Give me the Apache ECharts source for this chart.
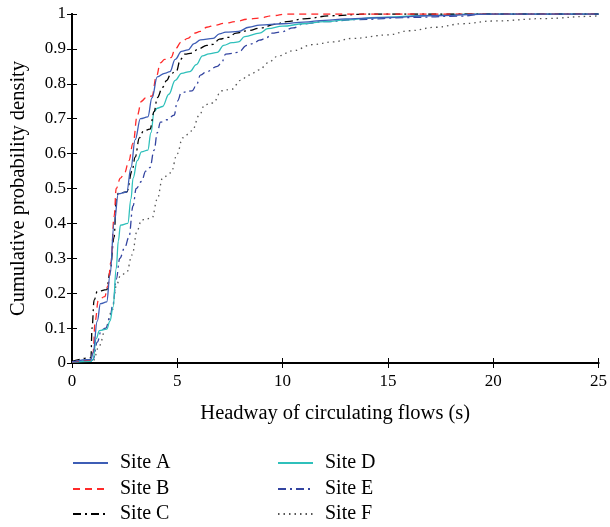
<!DOCTYPE html>
<html><head><meta charset="utf-8">
<script src="https://cdn.jsdelivr.net/npm/echarts@6/dist/echarts.min.js"></script>
<style>html,body{margin:0;padding:0;background:#fff}#c{width:610px;height:527px}</style>
</head><body><div id="c"></div>
<script>
const siteNames = ["Site A","Site B","Site C","Site D","Site E","Site F"];
const xTicks = [0,5,10,15,20,25];

const siteA_x = [0,0.9,1.0,1.2,1.35,1.65,1.8,2.0,2.2,2.6,2.8,3.0,3.25,3.6,3.8,4.05,4.4,4.65,4.9,5.2,5.5,5.8,6.1,6.7,7.0,7.3,7.9,8.4,8.9,10,11,12,13,15,17,20,25];
const siteA_y = [0.003,0.01,0.03,0.12,0.17,0.175,0.25,0.40,0.485,0.49,0.56,0.64,0.70,0.705,0.76,0.82,0.83,0.835,0.87,0.893,0.897,0.915,0.926,0.93,0.943,0.948,0.95,0.962,0.968,0.972,0.977,0.982,0.986,0.99,0.995,1.0,1.0];

const siteB_x = [0,0.9,1.0,1.1,1.25,1.55,1.7,1.85,2.0,2.1,2.3,2.5,2.7,2.9,3.1,3.3,3.5,3.8,4.0,4.2,4.4,4.7,4.9,5.2,5.5,5.8,6.1,6.4,6.8,7.2,7.8,8.3,8.9,9.5,10.2,25];
const siteB_y = [0.003,0.008,0.03,0.12,0.18,0.19,0.22,0.29,0.42,0.50,0.53,0.545,0.58,0.63,0.71,0.75,0.76,0.765,0.82,0.86,0.87,0.875,0.90,0.92,0.93,0.945,0.95,0.962,0.968,0.973,0.978,0.985,0.988,0.995,1.0,1.0];

const siteC_x = [0,0.9,0.95,1.05,1.2,1.65,1.8,2.0,2.1,2.2,2.6,2.85,3.0,3.2,3.4,3.7,3.9,4.05,4.3,4.5,4.7,4.95,5.15,5.35,5.7,6.0,6.4,6.7,7.0,7.4,7.8,8.3,9.0,9.6,10.2,11,12.3,14,25];
const siteC_y = [0.005,0.015,0.1,0.18,0.205,0.21,0.26,0.36,0.47,0.487,0.49,0.55,0.59,0.645,0.665,0.67,0.72,0.76,0.79,0.81,0.83,0.835,0.87,0.885,0.888,0.90,0.91,0.913,0.928,0.933,0.945,0.952,0.96,0.97,0.978,0.986,0.995,1.0,1.0];

const siteD_x = [0,0.9,1.0,1.15,1.3,1.65,1.8,1.95,2.1,2.2,2.3,2.65,2.8,2.9,3.1,3.3,3.6,3.75,3.9,4.05,4.3,4.6,4.9,5.2,5.6,5.9,6.2,6.5,6.9,7.2,7.6,7.9,8.2,8.9,9.3,10,11,12,13,14.5,17,19,25];
const siteD_y = [0.003,0.005,0.01,0.07,0.093,0.097,0.12,0.16,0.27,0.35,0.395,0.40,0.47,0.53,0.58,0.605,0.61,0.66,0.72,0.73,0.735,0.77,0.81,0.83,0.835,0.855,0.88,0.886,0.89,0.91,0.918,0.92,0.935,0.945,0.958,0.965,0.972,0.978,0.983,0.99,0.996,1.0,1.0];

const siteE_x = [0,0.9,1.0,1.2,1.4,1.6,1.8,1.95,2.1,2.27,2.5,2.7,2.9,3.05,3.3,3.5,3.7,3.9,4.05,4.2,4.5,4.85,5.0,5.2,5.7,5.9,6.1,6.4,6.9,7.1,7.3,7.9,8.3,8.6,8.9,9.2,9.5,9.9,10.5,11,12,13.6,16,18.5,19.5,25];
const siteE_y = [0.003,0.005,0.01,0.06,0.095,0.10,0.13,0.17,0.24,0.30,0.33,0.36,0.45,0.50,0.52,0.55,0.56,0.61,0.66,0.69,0.697,0.71,0.75,0.775,0.78,0.795,0.825,0.835,0.85,0.86,0.885,0.89,0.91,0.915,0.925,0.93,0.945,0.948,0.96,0.972,0.978,0.984,0.99,0.994,1.0,1.0];

const siteF_x = [0,1.0,1.3,1.6,1.9,2.1,2.3,2.6,2.85,3.1,3.3,3.8,4.05,4.3,4.7,5.0,5.25,5.7,6.05,6.3,6.7,7.1,7.6,8.0,8.4,8.9,9.3,9.8,10.5,11.4,12.4,13.3,15,16,17.3,18.5,20,22.5,24.5,25];
const siteF_y = [0.003,0.006,0.05,0.10,0.15,0.22,0.25,0.26,0.31,0.38,0.41,0.415,0.47,0.53,0.545,0.60,0.645,0.665,0.71,0.74,0.745,0.78,0.785,0.81,0.825,0.84,0.86,0.88,0.895,0.912,0.92,0.93,0.94,0.952,0.962,0.972,0.98,0.987,0.993,0.995];

const xs = [siteA_x,siteB_x,siteC_x,siteD_x,siteE_x,siteF_x];
const ys = [siteA_y,siteB_y,siteC_y,siteD_y,siteE_y,siteF_y];
const colors = ["#3d5db5","#ff2a2a","#000000","#2fc0bb","#3344a0","#555555"];
const dashes = ["solid",[7,5],[8,4,2,4],"solid",[8,4,2,4],[1.5,4]];

const FONT = "Liberation Serif";
const series = siteNames.map((n,i)=>({
  name:n, type:'line', showSymbol:false, symbol:'none',
  smooth:0.4, smoothMonotone:'x',
  data: xs[i].map((x,k)=>[x, ys[i][k]]),
  lineStyle:{color:colors[i], width:1.3, type:dashes[i]},
  itemStyle:{color:colors[i]},
  z: 10 - i
}));

// legend placement: column 1 (A,B,C), column 2 (D,E,F)
const legendLeft = [72,72,72,277,277,277];
const legendTop = [453,479,504,453,479,504];
const legends = siteNames.map((n,i)=>({
  data:[n], orient:'horizontal', left:legendLeft[i], top:legendTop[i], padding:0,
  itemWidth:35, itemHeight:14,
  itemStyle:{opacity:0},
  lineStyle:{width:2},
  textStyle:{fontFamily:FONT, fontSize:20, color:'#000', padding:[0,0,0,7]}
}));

const chart = echarts.init(document.getElementById('c'));
const axisLine = {show:true, lineStyle:{color:'#000', width:2}};
chart.setOption({
  animation:false,
  grid:{left:72, right:10, top:14, bottom:164},
  legend: legends,
  xAxis:[
    {type:'value', min:0, max:25, interval:5, position:'bottom',
     name:'Headway of circulating flows (s)', nameLocation:'middle', nameGap:40,
     nameTextStyle:{fontFamily:FONT, fontSize:20.5, color:'#000'},
     axisLine:axisLine, axisTick:{inside:true, length:5, lineStyle:{color:'#000'}},
     axisLabel:{fontFamily:FONT, fontSize:17, color:'#000', margin:10,
       formatter:v=>xTicks.includes(v)?String(v):''},
     splitLine:{show:false}},
    {type:'value', min:0, max:25, interval:5, position:'top',
     axisLine:axisLine, axisTick:{inside:true, length:5, lineStyle:{color:'#000'}},
     axisLabel:{show:false}, splitLine:{show:false}}
  ],
  yAxis:[
    {type:'value', min:0, max:1, interval:0.1, position:'left',
     name:'Cumulative probability density', nameLocation:'middle', nameGap:43,
     nameTextStyle:{fontFamily:FONT, fontSize:20.5, color:'#000'},
     axisLine:axisLine, axisTick:{inside:true, length:5, lineStyle:{color:'#000'}},
     axisLabel:{fontFamily:FONT, fontSize:17, color:'#000', margin:6,
       formatter:v=>String(+v.toFixed(1))},
     splitLine:{show:false}},
    {type:'value', min:0, max:1, interval:0.1, position:'right',
     axisLine:axisLine, axisTick:{inside:true, length:5, lineStyle:{color:'#000'}},
     axisLabel:{show:false}, splitLine:{show:false}}
  ],
  series: series
});
</script></body></html>
